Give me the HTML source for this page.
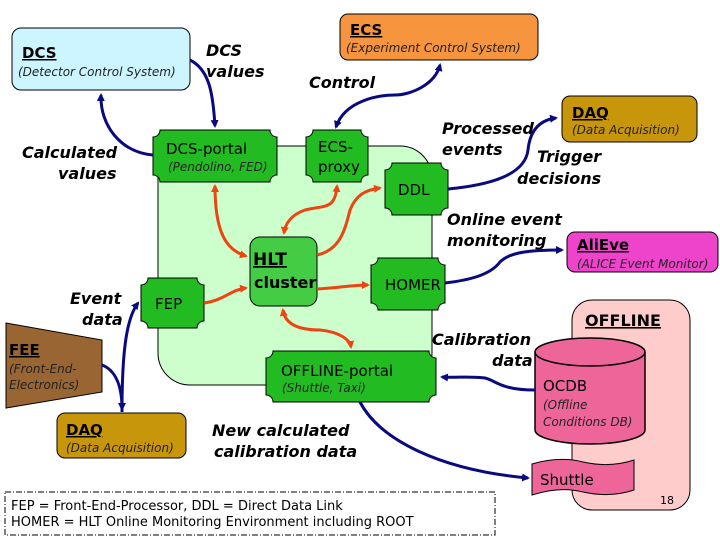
<!DOCTYPE html>
<html><head><meta charset="utf-8"><style>
html,body{margin:0;padding:0;background:#fff;width:720px;height:540px;overflow:hidden}
svg{display:block}
text{font-family:"DejaVu Sans","Liberation Sans",sans-serif}
.b{font-weight:bold;font-style:italic;font-size:16px;fill:#000}
.it{font-style:italic;font-size:12px;fill:#222;font-weight:300}
.t{font-size:15px;fill:#000}
.u{font-weight:bold;font-size:15px;text-decoration:underline;fill:#000}
</style></head><body>
<svg width="720" height="540" viewBox="0 0 720 540" xmlns="http://www.w3.org/2000/svg">
<defs>
<marker id="ab" markerWidth="8" markerHeight="8" refX="6" refY="4" orient="auto" markerUnits="userSpaceOnUse"><path d="M0,0 L8,4 L0,8 z" fill="#0a0a80"/></marker>
<marker id="abs" markerWidth="8" markerHeight="8" refX="2" refY="4" orient="auto" markerUnits="userSpaceOnUse"><path d="M8,0 L0,4 L8,8 z" fill="#0a0a80"/></marker>
<marker id="ao" markerWidth="8" markerHeight="8" refX="6" refY="4" orient="auto" markerUnits="userSpaceOnUse"><path d="M0,0 L8,4 L0,8 z" fill="#ee4411"/></marker>
<marker id="aos" markerWidth="8" markerHeight="8" refX="2" refY="4" orient="auto" markerUnits="userSpaceOnUse"><path d="M8,0 L0,4 L8,8 z" fill="#ee4411"/></marker>
</defs>
<rect x="158" y="146" width="274" height="239" rx="32" fill="#ccffcc" stroke="#000" stroke-width="1"/>
<rect x="572" y="300" width="118" height="210" rx="20" fill="#ffcccc" stroke="#000"/>
<text x="585" y="326" class="u" style="font-size:16px">OFFLINE</text>
<text x="660" y="504" style="font-size:11px">18</text>
<rect x="12" y="28" width="178" height="62" rx="9" fill="#ccf5ff" stroke="#000"/>
<text x="22" y="58" class="u">DCS</text>
<text x="18" y="76" class="it">(Detector Control System)</text>
<rect x="340" y="14" width="198" height="46" rx="8" fill="#f7953f" stroke="#000"/>
<text x="350" y="35" class="u">ECS</text>
<text x="346" y="52" class="it">(Experiment Control System)</text>
<rect x="562" y="96" width="135" height="46" rx="8" fill="#c8960a" stroke="#000"/>
<text x="572" y="118" class="u">DAQ</text>
<text x="572" y="134" class="it">(Data Acquisition)</text>
<rect x="567" y="232" width="151" height="40" rx="8" fill="#ee44cc" stroke="#000"/>
<text x="577" y="250" class="u">AliEve</text>
<text x="577" y="268" class="it">(ALICE Event Monitor)</text>
<polygon points="6,323 102,340 102,392 6,408" fill="#996633" stroke="#000"/>
<text x="9" y="355" class="u">FEE</text>
<text x="9" y="373" class="it">(Front-End-</text>
<text x="9" y="389" class="it">Electronics)</text>
<rect x="57" y="413" width="129" height="45" rx="8" fill="#c8960a" stroke="#000"/>
<text x="66" y="435" class="u">DAQ</text>
<text x="66" y="452" class="it">(Data Acquisition)</text>
<g fill="#22bb22" stroke="#000" stroke-width="1">
<path d="M160,130 H270 A7,7 0 0 0 277,137 V175 A7,7 0 0 0 270,182 H160 A7,7 0 0 0 153,175 V137 A7,7 0 0 0 160,130 Z"/>
<path d="M313,130 H361 A7,7 0 0 0 368,137 V175 A7,7 0 0 0 361,182 H313 A7,7 0 0 0 306,175 V137 A7,7 0 0 0 313,130 Z"/>
<path d="M392,163 H441 A7,7 0 0 0 448,170 V208 A7,7 0 0 0 441,215 H392 A7,7 0 0 0 385,208 V170 A7,7 0 0 0 392,163 Z"/>
<path d="M148,278 H197 A7,7 0 0 0 204,285 V321 A7,7 0 0 0 197,328 H148 A7,7 0 0 0 141,321 V285 A7,7 0 0 0 148,278 Z"/>
<path d="M378,258 H438 A7,7 0 0 0 445,265 V303 A7,7 0 0 0 438,310 H378 A7,7 0 0 0 371,303 V265 A7,7 0 0 0 378,258 Z"/>
<path d="M273,351 H429 A7,7 0 0 0 436,358 V395 A7,7 0 0 0 429,402 H273 A7,7 0 0 0 266,395 V358 A7,7 0 0 0 273,351 Z"/>
</g>
<rect x="250" y="237" width="67" height="69" rx="10" fill="#44cc44" stroke="#000"/>
<text x="166" y="154" class="t">DCS-portal</text>
<text x="168" y="171" class="it">(Pendolino, FED)</text>
<text x="318" y="152" class="t">ECS-</text>
<text x="318" y="172" class="t">proxy</text>
<text x="398" y="195" class="t">DDL</text>
<text x="155" y="309" class="t">FEP</text>
<text x="385" y="290" class="t">HOMER</text>
<text x="281" y="376" class="t">OFFLINE-portal</text>
<text x="282" y="392" class="it">(Shuttle, Taxi)</text>
<text x="253" y="265" class="u" style="font-size:17px">HLT</text>
<text x="254" y="288" style="font-weight:bold;font-size:16px">cluster</text>
<path d="M535,352 V430 A55,14 0 0 0 645,430 V352" fill="#ee6699" stroke="#000" stroke-width="1.5"/>
<ellipse cx="590" cy="352" rx="55" ry="14" fill="#ee6699" stroke="#000" stroke-width="1.5"/>
<text x="543" y="391" class="t">OCDB</text>
<text x="543" y="409" class="it">(Offline</text>
<text x="543" y="426" class="it">Conditions DB)</text>
<path d="M532,464 Q560,456 583,462 Q610,468 634,460 V490 Q610,498 583,492 Q560,486 532,495 Z" fill="#ee6699" stroke="#000"/>
<text x="540" y="485" class="t">Shuttle</text>
<rect x="5" y="492" width="490" height="43" fill="none" stroke="#000" stroke-dasharray="6,2,1,2"/>
<text x="11" y="510" style="font-size:13px">FEP = Front-End-Processor, DDL = Direct Data Link</text>
<text x="11" y="526" style="font-size:13px">HOMER = HLT Online Monitoring Environment including ROOT</text>
<text x="206" y="56" class="b">DCS</text>
<text x="206" y="77" class="b">values</text>
<text x="309" y="88" class="b">Control</text>
<text x="22" y="158" class="b">Calculated</text>
<text x="58" y="179" class="b">values</text>
<text x="442" y="134" class="b">Processed</text>
<text x="442" y="155" class="b">events</text>
<text x="537" y="162" class="b">Trigger</text>
<text x="517" y="184" class="b">decisions</text>
<text x="447" y="225" class="b">Online event</text>
<text x="447" y="246" class="b">monitoring</text>
<text x="70" y="304" class="b">Event</text>
<text x="82" y="325" class="b">data</text>
<text x="432" y="345" class="b">Calibration</text>
<text x="492" y="366" class="b">data</text>
<text x="212" y="436" class="b">New calculated</text>
<text x="214" y="457" class="b">calibration data</text>
<g fill="none" stroke="#0a0a80" stroke-width="3">
<path d="M190,60 C210,70 213,95 215,126" marker-end="url(#ab)"/>
<path d="M153,155 C120,152 100,125 101,95" marker-end="url(#ab)"/>
<path d="M336,127 C345,100 380,95 395,95 C410,95 435,85 440,65" marker-start="url(#abs)" marker-end="url(#ab)"/>
<path d="M448,189 C490,185 525,175 528,150 C530,130 540,120 556,118" marker-end="url(#ab)"/>
<path d="M445,283 C470,280 490,275 500,262 C510,252 530,250 562,250" marker-end="url(#ab)"/>
<path d="M102,365 C115,370 122,385 122,409" marker-end="url(#ab)"/>
<path d="M122,412 C122,360 125,320 138,303" marker-end="url(#ab)"/>
<path d="M535,390 C500,390 495,380 485,378 C470,376 455,378 442,377" marker-end="url(#ab)"/>
<path d="M360,402 C380,440 440,470 528,478" marker-end="url(#ab)"/>
</g>
<g fill="none" stroke="#ee4411" stroke-width="3">
<path d="M215,186 C215,230 225,250 246,256" marker-start="url(#aos)" marker-end="url(#ao)"/>
<path d="M337,186 C335,210 325,205 305,210 C290,215 285,225 284,233" marker-start="url(#aos)" marker-end="url(#ao)"/>
<path d="M317,255 C340,250 345,230 350,210 C356,195 365,190 380,188" marker-end="url(#ao)"/>
<path d="M317,289 C340,288 350,285 368,285" marker-end="url(#ao)"/>
<path d="M204,303 C225,300 230,290 246,288" marker-end="url(#ao)"/>
<path d="M283,310 C285,325 300,330 320,330 C340,332 350,340 351,347" marker-start="url(#aos)" marker-end="url(#ao)"/>
</g>
</svg>
</body></html>
